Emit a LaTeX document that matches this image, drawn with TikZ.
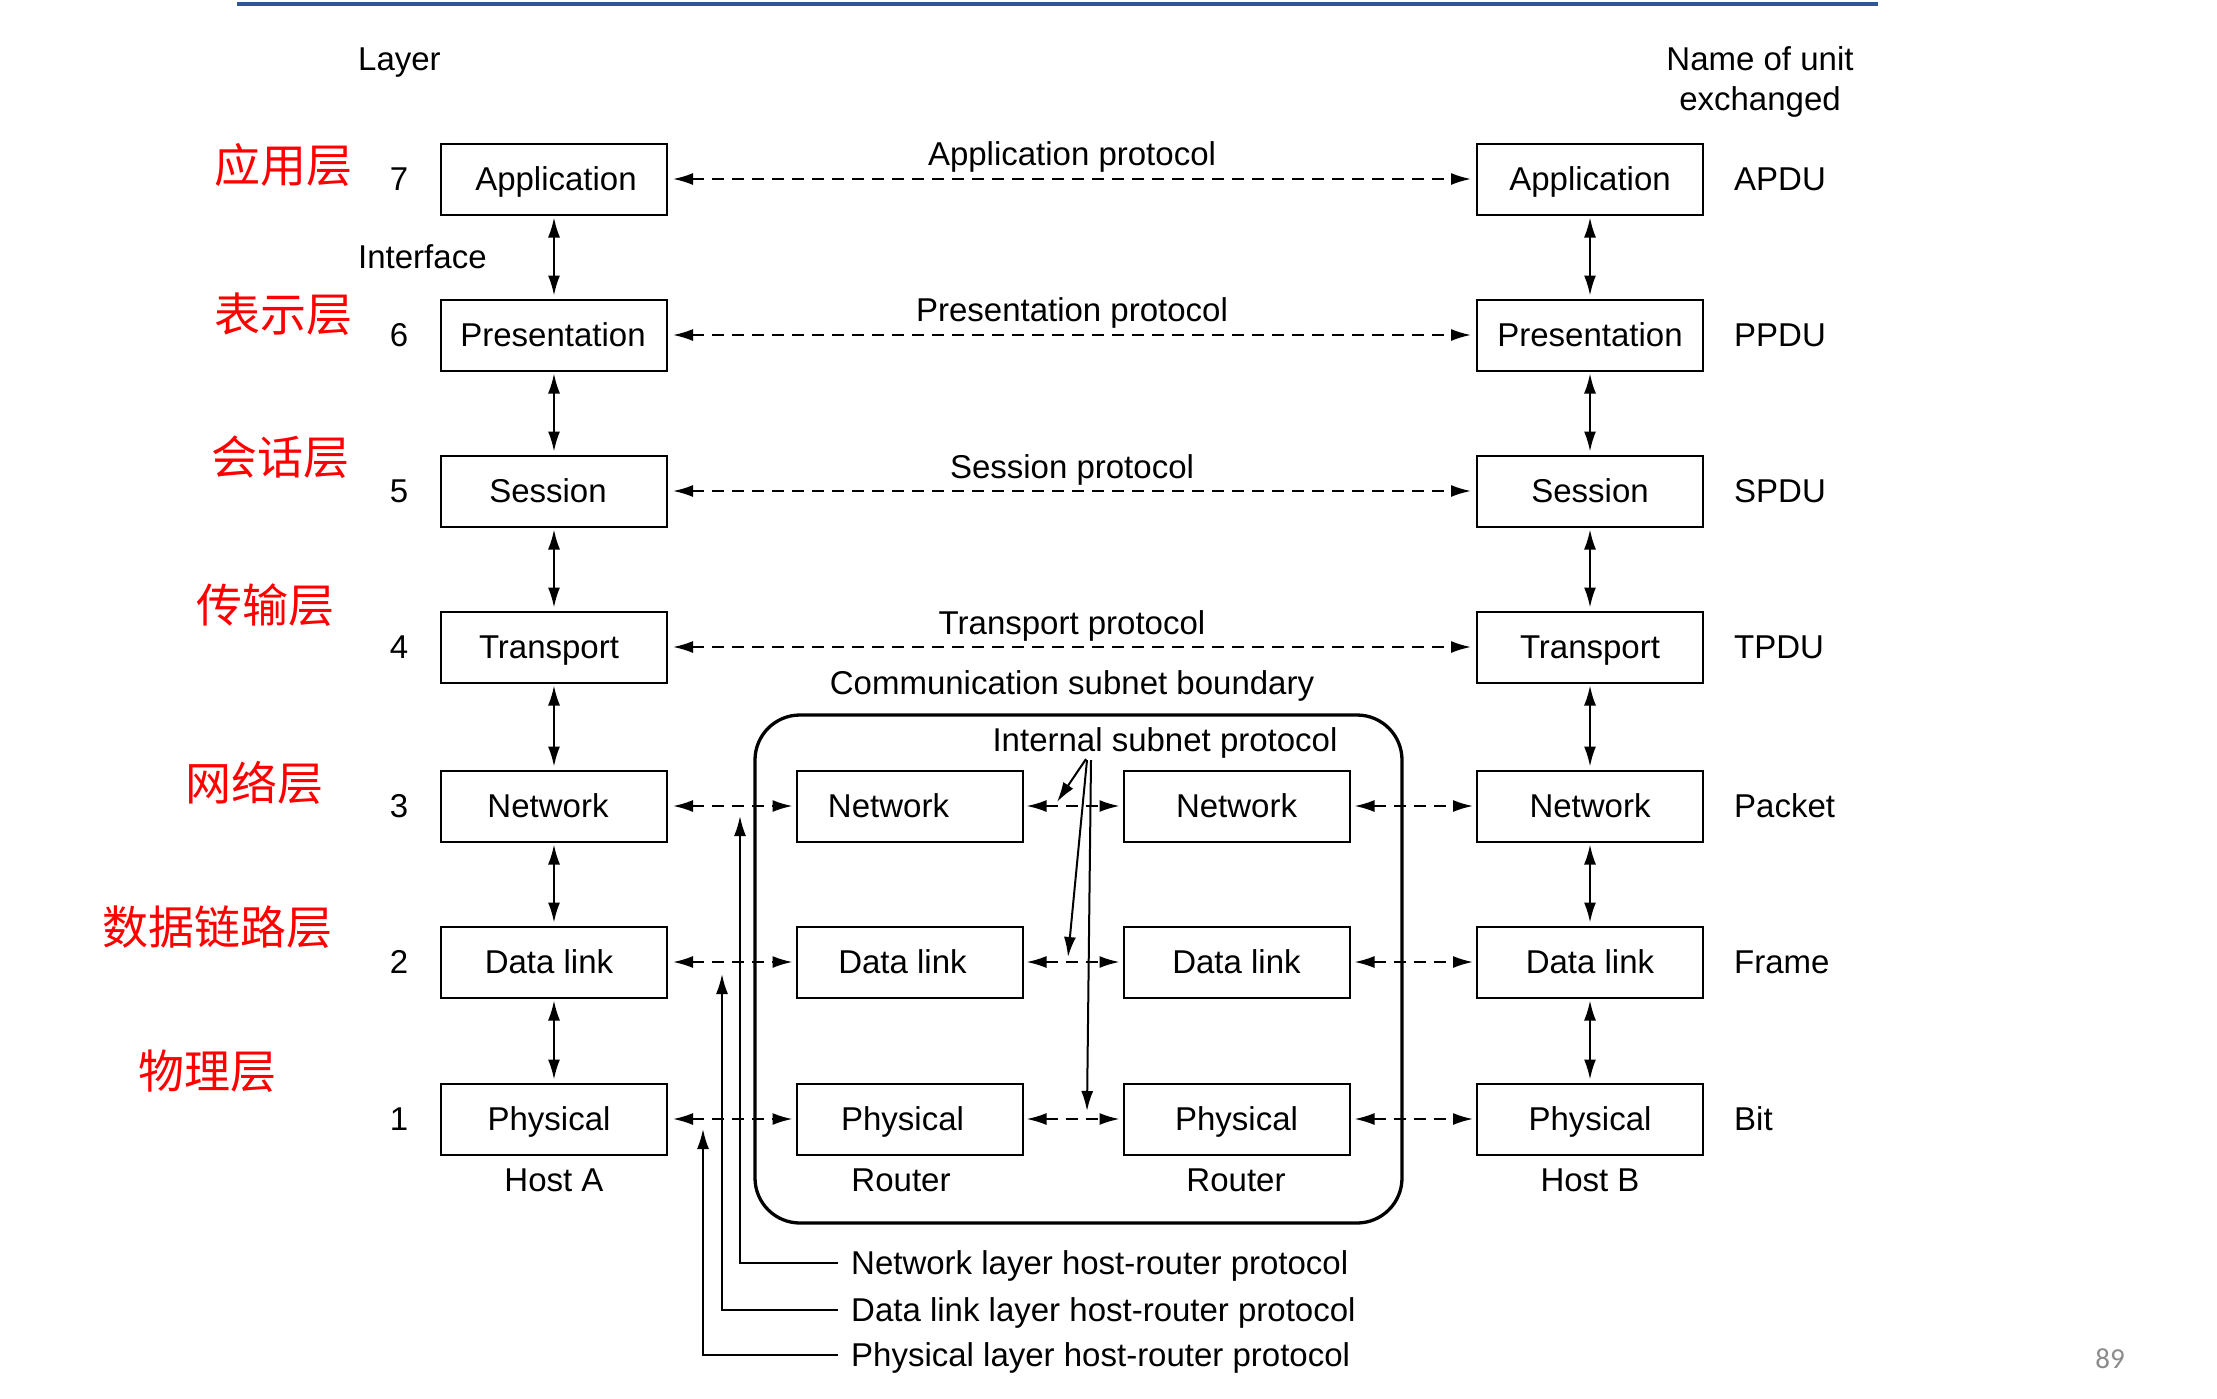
\documentclass[tikz,border=0pt]{standalone}
\usepackage{fontspec}
\setmainfont{Liberation Sans}
\newfontfamily\cjk{Noto Sans CJK SC}
\newfontfamily\pgnum{Carlito}
\usetikzlibrary{arrows.meta}
\definecolor{topblue}{RGB}{47,85,151}
\definecolor{pggray}{RGB}{140,140,140}
\begin{document}
\begin{tikzpicture}[x=1pt,y=-1pt,
  txt/.style={inner sep=0pt, font=\fontsize{33}{40}\selectfont, text height=23.6pt, text depth=0pt},
  layerbox/.style={txt, draw, line width=2pt, minimum width=226pt, minimum height=71pt},
  zh/.style={inner sep=0pt, text=red, font=\cjk\fontsize{46}{50}\selectfont},
  tipped/.style={line width=2pt, -{Latex[length=20pt,width=12pt]}},
  vdbl/.style={line width=2pt, {Latex[length=20pt,width=12pt]}-{Latex[length=20pt,width=12pt]}, shorten <=2pt, shorten >=3pt},
  pdash/.style={line width=2pt, dash pattern=on 12pt off 8pt, {Latex[length=20pt,width=12pt]}-{Latex[length=20pt,width=12pt]}},
]
\useasboundingbox (0,0) rectangle (2217,1398);
\fill[white] (0,0) rectangle (2217,1398);
\draw[topblue, line width=4.5pt] (237,4) -- (1878,4);

% header labels
\node[txt, anchor=west] (layerlbl) at (358,58.5) {Layer};
\node[txt, anchor=west] (iflbl) at (358,256.5) {Interface};
\node[txt] (nameunit) at (1760,58.5) {Name of unit};
\node[txt] (exch) at (1760,98.5) {exchanged};

% host stacks
\foreach \n/\y/\t/\u/\k in {7/179/Application/APDU/4, 6/335/Presentation/PPDU/-2, 5/491/Session/SPDU/-12, 4/647/Transport/TPDU/-10, 3/806/Network/Packet/-12, 2/962/Data link/Frame/-10, 1/1119/Physical/Bit/-10} {
  \node[layerbox] (a\n) at (554,\y) {\hspace*{\k pt}\t};
  \node[layerbox] (b\n) at (1590,\y) {\t};
  \node[txt] (num\n) at (399,\y) {\n};
  \node[txt, anchor=west] (unit\n) at (1734,\y) {\u};
}
\foreach \a/\b in {7/6,6/5,5/4,4/3,3/2,2/1} {
  \draw[vdbl] (a\a) -- (a\b);
  \draw[vdbl] (b\a) -- (b\b);
}

% peer protocols (upper layers)
\foreach \n/\y/\t in {7/154/Application protocol, 6/310/Presentation protocol, 5/467/Session protocol, 4/623/Transport protocol} {
  \draw[pdash, shorten <=5pt, shorten >=5pt] (a\n) -- (b\n);
  \node[txt] (prot\n) at (1072,\y) {\t};
}

% subnet
\node[draw, line width=3.3pt, rounded corners=45pt, minimum width=647pt, minimum height=508pt] (subnet) at (1078.5,969) {};
\node[txt] (subnetlbl) at (1072,683) {Communication subnet boundary};
\node[txt] (intlbl) at (1165,740) {Internal subnet protocol};

\foreach \n/\y/\t/\k in {3/806/Network/-42, 2/962/Data link/-14, 1/1119/Physical/-14} {
  \node[layerbox] (r\n) at (909.5,\y) {\hspace*{\k pt}\t};
  \node[layerbox] (s\n) at (1236.5,\y) {\t};
  \draw[pdash, shorten <=5pt, shorten >=3pt] (a\n) -- (r\n);
  \draw[pdash, shorten <=3pt, shorten >=3pt] (r\n) -- (s\n);
  \draw[pdash, shorten <=4pt, shorten >=3pt] (s\n) -- (b\n);
}

\node[txt] (hostA) at (554,1180) {Host A};
\node[txt] (hostB) at (1590,1180) {Host B};
\node[txt] (router1) at (901,1180) {Router};
\node[txt] (router2) at (1236,1180) {Router};

% internal subnet protocol pointers
\coordinate (ip1) at (1086,759);
\coordinate (ip2) at (1087,760);
\coordinate (ip3) at (1091,760);
\coordinate (it1) at (1057,802);
\coordinate (it2) at (1068,957);
\coordinate (it3) at (1087,1111);
\draw[tipped] (ip1) -- (it1);
\draw[tipped] (ip2) -- (it2);
\draw[tipped] (ip3) -- (it3);

% host-router protocols
\node[txt, anchor=west] (hnt) at (851,1263) {Network layer host-router protocol};
\node[txt, anchor=west] (hdt) at (851,1310) {Data link layer host-router protocol};
\node[txt, anchor=west] (hpt) at (851,1355) {Physical layer host-router protocol};
\coordinate (hnTip) at (740,816);
\coordinate (hdTip) at (722,974);
\coordinate (hpTip) at (703,1129);
\draw[tipped, shorten <=13pt] (hnt.west |- 0,1263) -| (hnTip);
\draw[tipped, shorten <=13pt] (hdt.west |- 0,1310) -| (hdTip);
\draw[tipped, shorten <=13pt] (hpt.west |- 0,1355) -| (hpTip);

% Chinese layer names
\node[zh] (zh7) at (283,165) {应用层};
\node[zh] (zh6) at (283,314.5) {表示层};
\node[zh] (zh5) at (280,457) {会话层};
\node[zh] (zh4) at (265.5,605.5) {传输层};
\node[zh] (zh3) at (254,783) {网络层};
\node[zh] (zh2) at (217,927.5) {数据链路层};
\node[zh] (zh1) at (207,1071) {物理层};

% page number
\node[inner sep=0pt, text=pggray, font=\pgnum\fontsize{29}{32}\selectfont] (pg) at (2110,1359) {89};
\end{tikzpicture}
\end{document}
